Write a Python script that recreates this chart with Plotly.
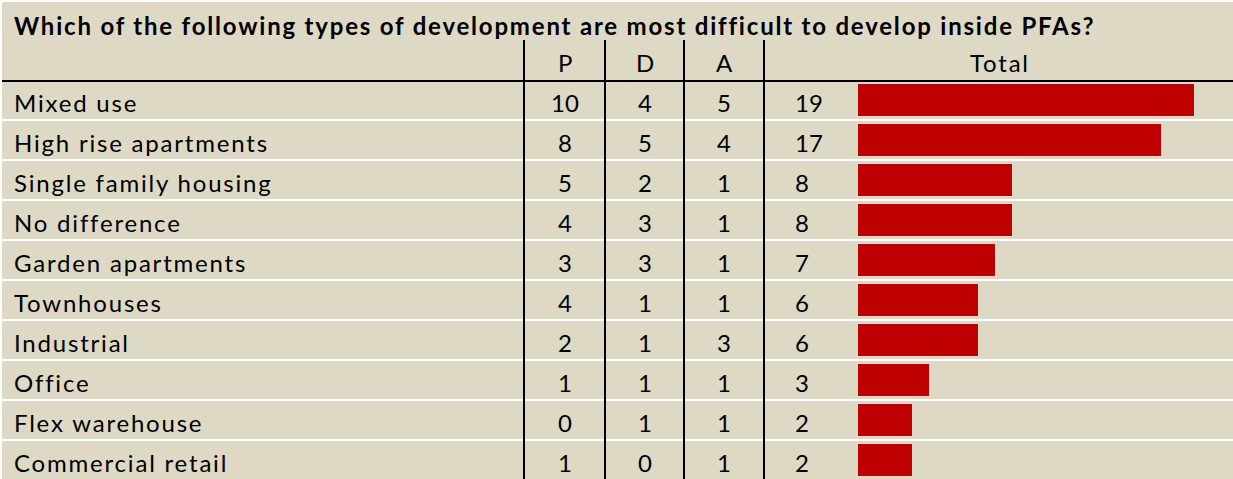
import plotly.graph_objects as go

TITLE = "Which of the following types of development are most difficult to develop inside PFAs?"
COLUMNS = ["P", "D", "A", "Total"]
CATEGORIES = ["Mixed use", "High rise apartments", "Single family housing", "No difference",
              "Garden apartments", "Townhouses", "Industrial", "Office", "Flex warehouse",
              "Commercial retail"]
P_VALUES = [10, 8, 5, 4, 3, 4, 2, 1, 0, 1]
D_VALUES = [4, 5, 2, 3, 3, 1, 1, 1, 1, 0]
A_VALUES = [5, 4, 1, 1, 1, 1, 3, 1, 1, 1]
TOTAL_VALUES = [19, 17, 8, 8, 7, 6, 6, 3, 2, 2]

W, H = 1233, 479
BG = "#DDD9C4"
RED = "#C00000"
FONT = "Lato"
FS = 24
LS = "1.8px"

rows = list(range(len(CATEGORIES)))
Y_TOP, Y_BOT = -2.5, 9.475           # row-index range (reversed axis)
BAR_MIN, BAR_MAX = -1.254, 21.35     # value range of the bar column

col_x = {"P": 565, "D": 645, "A": 724}
total_num_x = 793
total_hdr_x = 1000
dividers = [524, 605, 684, 764]
TXT_DY = 0.05


def spaced(t):
    return '<span style="letter-spacing:%s">%s</span>' % (LS, t)


def font():
    return dict(family=FONT, size=FS, color="black")


fig = go.Figure()
fig.add_trace(go.Bar(
    x=[v - BAR_MIN for v in TOTAL_VALUES], y=rows, base=BAR_MIN, orientation="h",
    marker=dict(color=RED, line=dict(width=0)), width=0.8,
    xaxis="x2", yaxis="y", hoverinfo="skip", showlegend=False,
))

ann = []
ann.append(dict(x=12, y=-1.86, xref="x", yref="y", text="<b>" + spaced(TITLE) + "</b>",
                xanchor="left", yanchor="middle", showarrow=False, font=font()))
for c in ["P", "D", "A"]:
    ann.append(dict(x=col_x[c], y=-0.95, xref="x", yref="y", text=c, showarrow=False,
                    xanchor="center", yanchor="middle", font=font()))
ann.append(dict(x=total_hdr_x, y=-0.95, xref="x", yref="y", text=spaced(COLUMNS[3]), showarrow=False,
                xanchor="center", yanchor="middle", font=font()))
for i, cat in enumerate(CATEGORIES):
    ann.append(dict(x=12, y=i + TXT_DY, xref="x", yref="y", text=spaced(cat), showarrow=False,
                    xanchor="left", yanchor="middle", font=font()))
    for c, vals in (("P", P_VALUES), ("D", D_VALUES), ("A", A_VALUES)):
        ann.append(dict(x=col_x[c], y=i + TXT_DY, xref="x", yref="y", text=str(vals[i]), showarrow=False,
                        xanchor="center", yanchor="middle", font=font()))
    ann.append(dict(x=total_num_x, y=i + TXT_DY, xref="x", yref="y", text=str(TOTAL_VALUES[i]),
                    showarrow=False, xanchor="left", yanchor="middle", font=font()))

shapes = []
# beige panel
shapes.append(dict(type="rect", xref="x", yref="paper", x0=2, x1=W, y0=0, y1=1 - 2 / H,
                   fillcolor=BG, line=dict(width=0), layer="below"))
# white separators between rows
for i in rows[:-1]:
    shapes.append(dict(type="line", xref="x", yref="y", x0=2, x1=W, y0=i + 0.5, y1=i + 0.5,
                       line=dict(color="white", width=2), layer="below"))
# header rule
shapes.append(dict(type="line", xref="x", yref="y", x0=2, x1=W, y0=-0.475, y1=-0.475,
                   line=dict(color="black", width=2)))
# column dividers
for dx in dividers:
    shapes.append(dict(type="line", xref="x", yref="y", x0=dx, x1=dx, y0=-1.5, y1=Y_BOT,
                       line=dict(color="black", width=2)))

fig.update_layout(
    width=W, height=H, margin=dict(l=0, r=0, t=0, b=0),
    paper_bgcolor="white", plot_bgcolor="rgba(0,0,0,0)",
    xaxis=dict(range=[0, W], domain=[0, 1], visible=False, fixedrange=True),
    xaxis2=dict(range=[BAR_MIN, BAR_MAX], domain=[858 / W, 1], visible=False, anchor="y",
                fixedrange=True),
    yaxis=dict(range=[Y_BOT, Y_TOP], visible=False, fixedrange=True),
    annotations=ann, shapes=shapes, bargap=0,
)
fig.write_html("out.html", config={"displayModeBar": False},
               post_script="document.body.style.margin='0';document.body.style.overflow='hidden';")
